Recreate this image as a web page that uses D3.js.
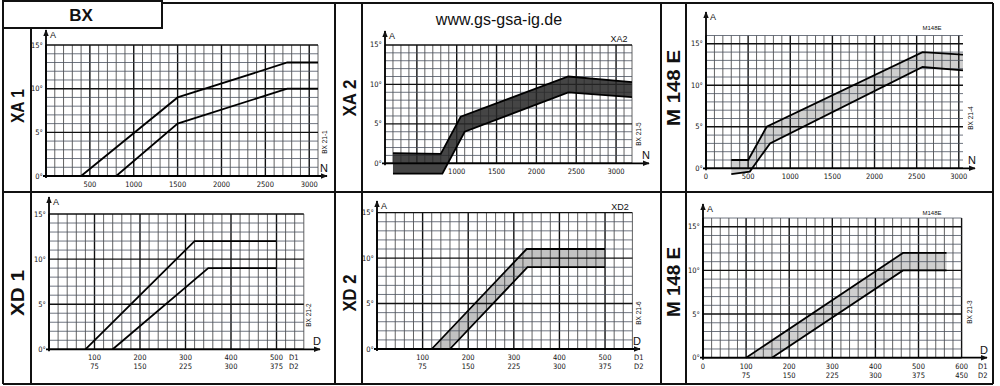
<!DOCTYPE html>
<meta charset="utf-8">
<style>
body { margin: 0; background: #fff; }
text { font-family: "Liberation Sans", Arial, sans-serif; fill: #111; }
.tick { font-family: "Liberation Sans Narrow", "DejaVu Sans Condensed", "Liberation Sans", sans-serif; font-size: 7.5px; }
.frame { stroke: #111; stroke-width: 2; fill: none; }
</style>
<body>
<script src="https://d3js.org/d3.v7.min.js"></script>
<script>

// curve values (x = N or D, y = A in degrees)
var xa1Upper = [[400,0],[1500,9],[2750,13],[3100,13]];
var xa1Lower = [[800,0],[1500,6],[2750,10],[3100,10]];
var xa2Upper = [[200,1.3],[800,1.2],[1050,5.9],[2400,11],[3200,10.3]];
var xa2Lower = [[200,-1.3],[820,-1.3],[1100,4],[2400,9],[3200,8.4]];
var m148nUpper = [[300,1],[500,1],[720,5],[2570,14],[3050,13.7]];
var m148nLower = [[300,-0.7],[520,-0.4],[760,3],[2570,12.2],[3050,11.8]];
var xd1Upper = [[80,0],[320,12],[500,12]];
var xd1Lower = [[140,0],[350,9],[500,9]];
var xd2Upper = [[120,0],[328,11],[500,11]];
var xd2Lower = [[160,0],[330,9],[500,9]];
var m148dUpper = [[100,0],[464,12],[565,12]];
var m148dLower = [[160,0],[464,10],[565,10]];

// tick labels
var degTicks = [0, 5, 10, 15];
var nTicks = [500, 1000, 1500, 2000, 2500, 3000];
var xa2Ticks = [1000, 1500, 2000, 2500, 3000];
var m148nTicks = [0, 500, 1000, 1500, 2000, 2500, 3000];
var dTicks = [100, 200, 300, 400, 500];
var d2Ticks = [75, 150, 225, 300, 375];
var m148dTicks = [0, 100, 200, 300, 400, 500, 600];
var m148d2Ticks = [null, 75, 150, 225, 300, 375, 450];

var svg = d3.select("body").append("svg")
    .attr("width", 1000)
    .attr("height", 386);

svg.append("defs").append("marker")
    .attr("id", "arr")
    .attr("viewBox", "0 0 10 10")
    .attr("refX", 9).attr("refY", 5)
    .attr("markerWidth", 4).attr("markerHeight", 4)
    .attr("markerUnits", "strokeWidth")
    .attr("orient", "auto")
  .append("path")
    .attr("d", "M0,1L10,5L0,9Z")
    .attr("fill", "#111");

// frame
var frame = svg.append("g");
frame.append("rect").attr("class", "frame").attr("x", 3).attr("y", 1).attr("width", 159).attr("height", 27);
var frameLines = [
  [162, 3, 993, 3], [3, 28, 3, 384], [31, 28, 31, 384], [3, 192, 993, 192],
  [335, 3, 335, 384], [362, 3, 362, 384], [661, 3, 661, 384], [686, 3, 686, 384],
  [993, 3, 993, 384], [3, 384, 993, 384]
];
frame.selectAll("line").data(frameLines).enter().append("line")
    .attr("class", "frame")
    .attr("x1", function(d) { return d[0]; }).attr("y1", function(d) { return d[1]; })
    .attr("x2", function(d) { return d[2]; }).attr("y2", function(d) { return d[3]; });

svg.append("text").attr("x", 81).attr("y", 21).attr("text-anchor", "middle")
    .attr("font-size", "17px").attr("font-weight", "bold").text("BX");
svg.append("text").attr("x", 499).attr("y", 25).attr("text-anchor", "middle")
    .attr("font-size", "16px").text("www.gs-gsa-ig.de");

// rotated panel names
var names = [
  {t: "XA 1", x: 17, y: 106, len: 34, bold: true},
  {t: "XD 1", x: 17, y: 293, len: 46, bold: true},
  {t: "XA 2", x: 349, y: 98, len: 37, bold: false},
  {t: "XD 2", x: 349, y: 293, len: 37, bold: false},
  {t: "M 148 E", x: 673, y: 88, len: 76, bold: false},
  {t: "M 148 E", x: 673, y: 282, len: 70, bold: false}
];
names.forEach(function(n) {
  svg.append("text")
      .attr("transform", "translate(" + (n.x + 6.5) + "," + n.y + ") rotate(-90)")
      .attr("text-anchor", "middle")
      .attr("font-size", "19px")
      .attr("font-weight", n.bold ? "bold" : "600")
      .attr("textLength", n.len)
      .attr("lengthAdjust", "spacingAndGlyphs")
      .text(n.t);
});

function drawPanel(p) {
  var g = svg.append("g");
  var x = d3.scaleLinear().domain(p.xd).range(p.xr);
  var y = d3.scaleLinear().domain([0, p.top]).range([p.y0, p.y0 - p.top * p.ppd]);
  var line = d3.line().x(function(d) { return x(d[0]); }).y(function(d) { return y(d[1]); });

  // light band sits under the grid
  if (p.band && !p.dark) {
    g.append("path")
        .attr("d", line(p.band[0].concat(p.band[1].slice().reverse())) + "Z")
        .attr("fill", p.fill);
  }

  var vx = d3.range(p.xd[0], p.xd[1] + 0.01, p.step);
  var hy = d3.range(0, p.top + 0.01, 1);
  g.selectAll(".v").data(vx).enter().append("line")
      .attr("x1", x).attr("x2", x)
      .attr("y1", y(0)).attr("y2", y(p.top))
      .attr("stroke", function(d) { return d % p.major === 0 ? "#111" : "#3a3a3a"; })
      .attr("stroke-width", function(d) { return d % p.major === 0 ? 1.4 : 0.8; });
  g.selectAll(".h").data(hy).enter().append("line")
      .attr("x1", x(p.xd[0])).attr("x2", x(p.xd[1]))
      .attr("y1", y).attr("y2", y)
      .attr("stroke", function(d) { return d % 5 === 0 ? "#111" : "#4a5260"; })
      .attr("stroke-width", function(d) { return d % 5 === 0 ? 1.4 : 0.8; });

  if (p.band && p.dark) {
    g.append("path")
        .attr("d", line(p.band[0].concat(p.band[1].slice().reverse())) + "Z")
        .attr("fill", p.fill).attr("fill-opacity", 0.86);
  }

  p.curves.forEach(function(c) {
    g.append("path").attr("d", line(c))
        .attr("fill", "none").attr("stroke", "#000").attr("stroke-width", 1.8);
  });

  // axes with arrows
  var ax = x(p.xd[0]);
  g.append("line").attr("x1", ax - 3).attr("x2", p.xTip).attr("y1", y(0)).attr("y2", y(0))
      .attr("stroke", "#000").attr("stroke-width", 1.8).attr("marker-end", "url(#arr)");
  g.append("line").attr("x1", ax).attr("x2", ax).attr("y1", y(0) + 2).attr("y2", p.yTip)
      .attr("stroke", "#000").attr("stroke-width", 1.8).attr("marker-end", "url(#arr)");
  g.append("text").attr("x", ax + 4).attr("y", p.yTip + 8).attr("font-size", "9px").text("A");
  g.append("text").attr("x", p.xTip - 7).attr("y", y(0) - 4).attr("font-size", "11px").text(p.letter);

  g.selectAll(".dl").data(degTicks).enter().append("text")
      .attr("class", "tick").attr("text-anchor", "end")
      .attr("x", ax - 3).attr("y", function(d) { return y(d) + 2.5; })
      .text(function(d) { return d + "°"; });
  g.selectAll(".t1").data(p.ticks).enter().append("text")
      .attr("class", "tick").attr("text-anchor", "middle")
      .attr("x", x).attr("y", y(0) + 11)
      .text(function(d) { return d; });
  if (p.ticks2) {
    g.selectAll(".t2").data(p.ticks2).enter().append("text")
        .attr("class", "tick").attr("text-anchor", "middle")
        .attr("x", function(d, i) { return x(p.ticks[i]); }).attr("y", y(0) + 20)
        .text(function(d) { return d === null ? "" : d; });
    g.append("text").attr("class", "tick").attr("x", p.dx).attr("y", y(0) + 11).text("D1");
    g.append("text").attr("class", "tick").attr("x", p.dx).attr("y", y(0) + 20).text("D2");
  }

  g.append("text")
      .attr("transform", "translate(" + p.code[1] + "," + p.code[2] + ") rotate(-90)")
      .attr("text-anchor", "middle").attr("font-size", "6.5px")
      .text(p.code[0]);
  if (p.name) {
    g.append("text").attr("x", p.name[1]).attr("y", p.name[2]).attr("text-anchor", "middle")
        .attr("font-size", p.name[3] + "px").text(p.name[0]);
  }
}

drawPanel({xd: [0, 3100], xr: [46, 318], y0: 176, ppd: 8.73, top: 15, step: 100, major: 500,
  curves: [xa1Upper, xa1Lower], ticks: nTicks, xTip: 327, yTip: 30, letter: "N",
  code: ["BX 21-1", 327, 142]});

drawPanel({xd: [100, 3200], xr: [385, 632], y0: 163.3, ppd: 7.89, top: 15, step: 100, major: 500,
  band: [xa2Upper, xa2Lower], dark: true, fill: "#262626",
  curves: [xa2Upper, xa2Lower], ticks: xa2Ticks, xTip: 649, yTip: 31, letter: "N",
  code: ["BX 21-5", 641, 134], name: ["XA2", 619, 42, 9]});

drawPanel({xd: [0, 3050], xr: [706, 963], y0: 168.3, ppd: 8.3, top: 16, step: 100, major: 500,
  band: [m148nUpper, m148nLower], fill: "#cfcfcf",
  curves: [m148nUpper, m148nLower], ticks: m148nTicks, xTip: 975, yTip: 12, letter: "N",
  code: ["BX 21-4", 973, 118], name: ["M148E", 932, 30, 6]});

drawPanel({xd: [0, 560], xr: [49, 303.8], y0: 349.3, ppd: 9.02, top: 15, step: 20, major: 100,
  curves: [xd1Upper, xd1Lower], ticks: dTicks, ticks2: d2Ticks, dx: 289, xTip: 320, yTip: 197, letter: "D",
  code: ["BX 21-2", 311, 315]});

drawPanel({xd: [0, 560], xr: [377, 632.4], y0: 349, ppd: 9.09, top: 15, step: 20, major: 100,
  band: [xd2Upper, xd2Lower], fill: "#c2c2c2",
  curves: [xd2Upper, xd2Lower], ticks: dTicks, ticks2: d2Ticks, dx: 634, xTip: 640, yTip: 201, letter: "D",
  code: ["BX 21-6", 641, 313], name: ["XD2", 620, 210, 9]});

drawPanel({xd: [0, 600], xr: [703, 961.6], y0: 357.7, ppd: 8.73, top: 16, step: 20, major: 100,
  band: [m148dUpper, m148dLower], fill: "#cfcfcf",
  curves: [m148dUpper, m148dLower], ticks: m148dTicks, ticks2: m148d2Ticks, dx: 978, xTip: 987, yTip: 204, letter: "D",
  code: ["BX 21-3", 972, 312], name: ["M148E", 932, 215, 6]});

</script>
</body>
